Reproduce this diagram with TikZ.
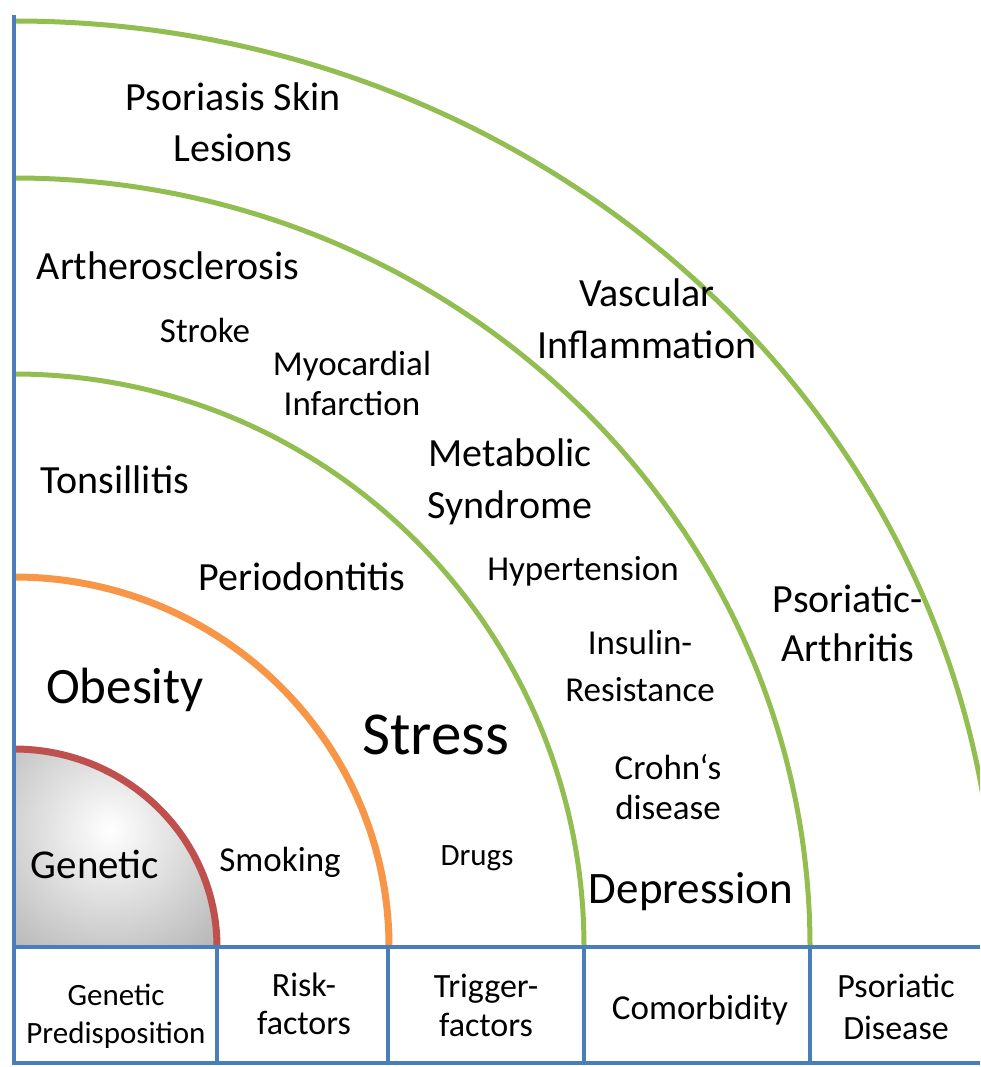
\documentclass[tikz,border=0pt]{standalone}
\usepackage{fontspec}
\setmainfont{Carlito}
\definecolor{lblue}{RGB}{74,126,187}
\definecolor{lgreen}{RGB}{146,189,80}
\definecolor{lorange}{RGB}{247,150,70}
\definecolor{lred}{RGB}{192,80,77}
\begin{document}
\begin{tikzpicture}[x=1pt,y=-1pt,
  lbl/.style={align=center, inner sep=0pt, text=black},
  fbig/.style={lbl, font=\fontsize{40}{51}\selectfont},
  fmid/.style={lbl, font=\fontsize{35}{42}\selectfont},
  fsmall/.style={lbl, font=\fontsize{31}{38}\selectfont},
  ring/.style={line width=5pt},
  gridline/.style={draw=lblue, line width=4.5pt}]
\useasboundingbox (0,0) rectangle (980,1067);
\clip (0,0) rectangle (980,1067);
\coordinate (O) at (14,947);
% genetic core shading
\begin{scope}
  \clip (O) -- ++(0,-198) arc[start angle=-90,end angle=0,x radius=203,y radius=198] -- cycle;
  \shade[inner color=white, outer color=black!55] (-190,530) rectangle (410,1130);
\end{scope}
% rings
\draw[ring, lgreen] (O) ++(0,-926) arc[start angle=-90,end angle=0,x radius=982,y radius=926];
\draw[ring, lgreen] (O) ++(0,-769) arc[start angle=-90,end angle=0,x radius=796,y radius=769];
\draw[ring, lgreen] (O) ++(0,-573) arc[start angle=-90,end angle=0,x radius=570,y radius=573];
\draw[ring, lorange, line width=7pt] (O) ++(0,-370) arc[start angle=-90,end angle=0,x radius=375,y radius=370];
\draw[ring, lred, line width=7pt] (O) ++(0,-198) arc[start angle=-90,end angle=0,x radius=203,y radius=198];
% table grid
\coordinate (top) at (14,15);
\coordinate (bl) at (14,1063);
\coordinate (tr) at (980,947);
\coordinate (br) at (980,1063);
\draw[gridline] (top) -- (bl) -- (br);
\draw[gridline] (O) -- (tr);
\foreach \x in {217,388,584,810} \draw[gridline] (\x,947) -- (\x,1063);
% labels in the rings
\node[fbig] (skin) at (233,122) {Psoriasis Skin\\Lesions};
\node[fbig] (arth) at (168,266) {Artherosclerosis};
\node[fmid] (stroke) at (205,330) {Stroke};
\node[fmid, font=\fontsize{35}{40}\selectfont] (myo) at (352,383) {Myocardial\\Infarction};
\node[fbig, font=\fontsize{40}{52}\selectfont] (vasc) at (647,319) {Vascular\\Inflammation};
\node[fbig] (tons) at (115,480) {Tonsillitis};
\node[fbig, font=\fontsize{40}{52}\selectfont] (meta) at (510,482) {Metabolic\\Syndrome};
\node[fbig] (perio) at (302,577) {Periodontitis};
\node[fmid] (hyper) at (583,571) {Hypertension};
\node[fbig, font=\fontsize{40}{49}\selectfont] (psa) at (848,623) {Psoriatic-\\Arthritis};
\node[fmid, font=\fontsize{35}{47}\selectfont] (insulin) at (640,666) {Insulin-\\Resistance};
\node[lbl, font=\fontsize{51}{60}\selectfont] (obes) at (125,690) {Obesity};
\node[lbl, font=\fontsize{61}{72}\selectfont] (stress) at (436,735) {Stress};
\node[fmid, font=\fontsize{35}{40}\selectfont] (crohn) at (668,787) {Crohn‘s\\disease};
\node[lbl, font=\fontsize{41}{50}\selectfont] (gen) at (95,864) {Genetic};
\node[fmid] (smok) at (280,862) {Smoking};
\node[fsmall] (drugs) at (477,858) {Drugs};
\node[lbl, font=\fontsize{45}{54}\selectfont] (dep) at (691,892) {Depression};
% table labels
\node[fsmall] (c1) at (116,1016) {Genetic\\Predisposition};
\node[fmid, font=\fontsize{34}{38}\selectfont] (c2) at (304,1004) {Risk-\\factors};
\node[fmid, font=\fontsize{34}{39}\selectfont] (c3) at (486,1005) {Trigger-\\factors};
\node[fmid] (c4) at (700,1010) {Comorbidity};
\node[fmid, font=\fontsize{34}{42}\selectfont] (c5) at (896,1007) {Psoriatic\\Disease};
\end{tikzpicture}
\end{document}
